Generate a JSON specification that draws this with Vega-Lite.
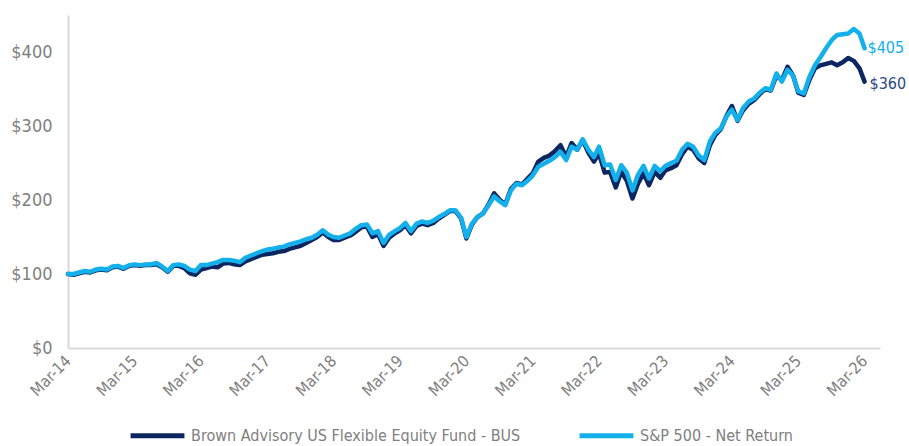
{
  "$schema": "https://vega.github.io/schema/vega-lite/v6.json",
  "width": 812,
  "height": 333,
  "autosize": {"type": "none"},
  "padding": {"left": 68, "top": 15, "right": 29, "bottom": 98},
  "background": "white",
  "config": {
    "view": {"stroke": null},
    "font": "'Liberation Sans Narrow', 'Arial Narrow', 'DejaVu Sans Condensed', Roboto, sans-serif"
  },
  "datasets": {
    "main": [
      {"date":"2014-03-01","BUS":100,"SP":100},{"date":"2014-04-01","BUS":99,"SP":100},{"date":"2014-05-01","BUS":101,"SP":102},{"date":"2014-06-01","BUS":103,"SP":104},{"date":"2014-07-01","BUS":102,"SP":103},{"date":"2014-08-01","BUS":105,"SP":106},{"date":"2014-09-01","BUS":106,"SP":107},{"date":"2014-10-01","BUS":105,"SP":106},{"date":"2014-11-01","BUS":109,"SP":110},{"date":"2014-12-01","BUS":110,"SP":111},
      {"date":"2015-01-01","BUS":107,"SP":108},{"date":"2015-02-01","BUS":111,"SP":112},{"date":"2015-03-01","BUS":112,"SP":113},{"date":"2015-04-01","BUS":111,"SP":112},{"date":"2015-05-01","BUS":112,"SP":113},{"date":"2015-06-01","BUS":112,"SP":113},{"date":"2015-07-01","BUS":113,"SP":115},{"date":"2015-08-01","BUS":109,"SP":110},{"date":"2015-09-01","BUS":103,"SP":104},{"date":"2015-10-01","BUS":111,"SP":112},{"date":"2015-11-01","BUS":111,"SP":113},{"date":"2015-12-01","BUS":108,"SP":111},
      {"date":"2016-01-01","BUS":101,"SP":106},{"date":"2016-02-01","BUS":99,"SP":104},{"date":"2016-03-01","BUS":106,"SP":112},{"date":"2016-04-01","BUS":108,"SP":112},{"date":"2016-05-01","BUS":110,"SP":114},{"date":"2016-06-01","BUS":109,"SP":116},{"date":"2016-07-01","BUS":114,"SP":119},{"date":"2016-08-01","BUS":115,"SP":119},{"date":"2016-09-01","BUS":113,"SP":118},{"date":"2016-10-01","BUS":112,"SP":116},{"date":"2016-11-01","BUS":117,"SP":122},{"date":"2016-12-01","BUS":120,"SP":125},
      {"date":"2017-01-01","BUS":123,"SP":128},{"date":"2017-02-01","BUS":126,"SP":131},{"date":"2017-03-01","BUS":127,"SP":133},{"date":"2017-04-01","BUS":128,"SP":134},{"date":"2017-05-01","BUS":130,"SP":136},{"date":"2017-06-01","BUS":131,"SP":137},{"date":"2017-07-01","BUS":134,"SP":140},{"date":"2017-08-01","BUS":136,"SP":142},{"date":"2017-09-01","BUS":138,"SP":144},{"date":"2017-10-01","BUS":142,"SP":147},{"date":"2017-11-01","BUS":146,"SP":149},{"date":"2017-12-01","BUS":150,"SP":153},
      {"date":"2018-01-01","BUS":156,"SP":159},{"date":"2018-02-01","BUS":150,"SP":153},{"date":"2018-03-01","BUS":146,"SP":150},{"date":"2018-04-01","BUS":146,"SP":149},{"date":"2018-05-01","BUS":149,"SP":152},{"date":"2018-06-01","BUS":152,"SP":155},{"date":"2018-07-01","BUS":157,"SP":161},{"date":"2018-08-01","BUS":163,"SP":166},{"date":"2018-09-01","BUS":164,"SP":167},{"date":"2018-10-01","BUS":150,"SP":155},{"date":"2018-11-01","BUS":154,"SP":158},{"date":"2018-12-01","BUS":138,"SP":142},
      {"date":"2019-01-01","BUS":149,"SP":153},{"date":"2019-02-01","BUS":155,"SP":158},{"date":"2019-03-01","BUS":159,"SP":162},{"date":"2019-04-01","BUS":166,"SP":169},{"date":"2019-05-01","BUS":155,"SP":158},{"date":"2019-06-01","BUS":165,"SP":168},{"date":"2019-07-01","BUS":168,"SP":171},{"date":"2019-08-01","BUS":166,"SP":169},{"date":"2019-09-01","BUS":169,"SP":172},{"date":"2019-10-01","BUS":175,"SP":177},{"date":"2019-11-01","BUS":180,"SP":181},{"date":"2019-12-01","BUS":185,"SP":186},
      {"date":"2020-01-01","BUS":185,"SP":186},{"date":"2020-02-01","BUS":175,"SP":176},{"date":"2020-03-01","BUS":148,"SP":150},{"date":"2020-04-01","BUS":167,"SP":168},{"date":"2020-05-01","BUS":177,"SP":177},{"date":"2020-06-01","BUS":182,"SP":182},{"date":"2020-07-01","BUS":194,"SP":193},{"date":"2020-08-01","BUS":209,"SP":205},{"date":"2020-09-01","BUS":200,"SP":198},{"date":"2020-10-01","BUS":194,"SP":193},{"date":"2020-11-01","BUS":215,"SP":213},{"date":"2020-12-01","BUS":223,"SP":222},
      {"date":"2021-01-01","BUS":221,"SP":220},{"date":"2021-02-01","BUS":229,"SP":226},{"date":"2021-03-01","BUS":236,"SP":233},{"date":"2021-04-01","BUS":252,"SP":245},{"date":"2021-05-01","BUS":257,"SP":249},{"date":"2021-06-01","BUS":260,"SP":253},{"date":"2021-07-01","BUS":266,"SP":258},{"date":"2021-08-01","BUS":274,"SP":265},{"date":"2021-09-01","BUS":258,"SP":254},{"date":"2021-10-01","BUS":277,"SP":272},{"date":"2021-11-01","BUS":268,"SP":268},{"date":"2021-12-01","BUS":281,"SP":282},
      {"date":"2022-01-01","BUS":264,"SP":268},{"date":"2022-02-01","BUS":252,"SP":258},{"date":"2022-03-01","BUS":263,"SP":272},{"date":"2022-04-01","BUS":237,"SP":247},{"date":"2022-05-01","BUS":238,"SP":248},{"date":"2022-06-01","BUS":217,"SP":227},{"date":"2022-07-01","BUS":238,"SP":247},{"date":"2022-08-01","BUS":226,"SP":237},{"date":"2022-09-01","BUS":202,"SP":213},{"date":"2022-10-01","BUS":222,"SP":234},{"date":"2022-11-01","BUS":236,"SP":246},{"date":"2022-12-01","BUS":220,"SP":229},
      {"date":"2023-01-01","BUS":238,"SP":246},{"date":"2023-02-01","BUS":230,"SP":239},{"date":"2023-03-01","BUS":240,"SP":246},{"date":"2023-04-01","BUS":243,"SP":250},{"date":"2023-05-01","BUS":247,"SP":253},{"date":"2023-06-01","BUS":262,"SP":268},{"date":"2023-07-01","BUS":272,"SP":276},{"date":"2023-08-01","BUS":268,"SP":272},{"date":"2023-09-01","BUS":256,"SP":260},{"date":"2023-10-01","BUS":250,"SP":254},{"date":"2023-11-01","BUS":274,"SP":279},{"date":"2023-12-01","BUS":288,"SP":291},
      {"date":"2024-01-01","BUS":296,"SP":297},{"date":"2024-02-01","BUS":314,"SP":313},{"date":"2024-03-01","BUS":327,"SP":322},{"date":"2024-04-01","BUS":307,"SP":308},{"date":"2024-05-01","BUS":321,"SP":324},{"date":"2024-06-01","BUS":330,"SP":333},{"date":"2024-07-01","BUS":335,"SP":337},{"date":"2024-08-01","BUS":343,"SP":345},{"date":"2024-09-01","BUS":350,"SP":351},{"date":"2024-10-01","BUS":348,"SP":349},{"date":"2024-11-01","BUS":368,"SP":371},{"date":"2024-12-01","BUS":362,"SP":360},
      {"date":"2025-01-01","BUS":380,"SP":376},{"date":"2025-02-01","BUS":368,"SP":368},{"date":"2025-03-01","BUS":345,"SP":347},{"date":"2025-04-01","BUS":342,"SP":344},{"date":"2025-05-01","BUS":362,"SP":366},{"date":"2025-06-01","BUS":378,"SP":382},{"date":"2025-07-01","BUS":382,"SP":393},{"date":"2025-08-01","BUS":384,"SP":405},{"date":"2025-09-01","BUS":386,"SP":416},{"date":"2025-10-01","BUS":382,"SP":423},{"date":"2025-11-01","BUS":386,"SP":424},{"date":"2025-12-01","BUS":392,"SP":425},
      {"date":"2026-01-01","BUS":388,"SP":431},{"date":"2026-02-01","BUS":378,"SP":425},{"date":"2026-03-01","BUS":360,"SP":405}
    ],
    "ends": [
      {"date":"2026-03-01","series":"SP","value":405},
      {"date":"2026-03-01","series":"BUS","value":360}
    ]
  },
  "layer": [
    {
      "data": {"name": "main"},
      "transform": [{"fold": ["BUS", "SP"], "as": ["series", "value"]}],
      "mark": {"type": "line", "strokeWidth": 4.5, "strokeJoin": "round", "strokeCap": "round"},
      "encoding": {
        "x": {
          "field": "date", "type": "temporal",
          "scale": {"type": "utc", "domain": [{"year": 2014, "month": 3, "date": 1, "utc": true}, {"year": 2026, "month": 5, "date": 25, "utc": true}]},
          "axis": {
            "title": null,
            "values": [
              {"year": 2014, "month": 3, "date": 1, "utc": true},
              {"year": 2015, "month": 3, "date": 1, "utc": true},
              {"year": 2016, "month": 3, "date": 1, "utc": true},
              {"year": 2017, "month": 3, "date": 1, "utc": true},
              {"year": 2018, "month": 3, "date": 1, "utc": true},
              {"year": 2019, "month": 3, "date": 1, "utc": true},
              {"year": 2020, "month": 3, "date": 1, "utc": true},
              {"year": 2021, "month": 3, "date": 1, "utc": true},
              {"year": 2022, "month": 3, "date": 1, "utc": true},
              {"year": 2023, "month": 3, "date": 1, "utc": true},
              {"year": 2024, "month": 3, "date": 1, "utc": true},
              {"year": 2025, "month": 3, "date": 1, "utc": true},
              {"year": 2026, "month": 3, "date": 1, "utc": true}
            ],
            "labelExpr": "utcFormat(datum.value, '%b-%y')",
            "labelAngle": -45,
            "labelAlign": "right",
            "labelBaseline": "middle",
            "labelPadding": 10,
            "labelFontSize": 16,
            "labelColor": "#808080",
            "ticks": false,
            "grid": false,
            "domainColor": "#d9d9d9",
            "domainWidth": 2,
            "labelOverlap": false
          }
        },
        "y": {
          "field": "value", "type": "quantitative",
          "scale": {"domain": [0, 450], "nice": false},
          "axis": {
            "title": null,
            "values": [0, 100, 200, 300, 400],
            "format": "$,.0f",
            "labelFontSize": 18,
            "labelColor": "#808080",
            "labelPadding": 16,
            "ticks": false,
            "grid": false,
            "domainColor": "#d9d9d9",
            "domainWidth": 2
          }
        },
        "color": {
          "field": "series", "type": "nominal",
          "scale": {"domain": ["BUS", "SP"], "range": ["#0b2660", "#13b0ec"]},
          "legend": {
            "title": null,
            "orient": "none",
            "direction": "horizontal",
            "legendX": 60,
            "legendY": 391,
            "labelExpr": "datum.label == 'BUS' ? 'Brown Advisory US Flexible Equity Fund - BUS' : 'S&P 500 - Net Return'",
            "symbolType": "stroke",
            "symbolSize": 2900,
            "symbolStrokeWidth": 5,
            "labelFontSize": 16,
            "labelColor": "#808080",
            "labelOffset": 4,
            "columnPadding": 48,
            "labelLimit": 400
          }
        }
      }
    },
    {
      "data": {"name": "ends"},
      "transform": [{"filter": "datum.series == 'SP'"}],
      "mark": {"type": "text", "align": "left", "baseline": "middle", "dx": 3, "fontSize": 16, "color": "#13b0ec"},
      "encoding": {
        "x": {"field": "date", "type": "temporal"},
        "y": {"field": "value", "type": "quantitative"},
        "text": {"field": "value", "type": "quantitative", "format": "$.0f"}
      }
    },
    {
      "data": {"name": "ends"},
      "transform": [{"filter": "datum.series == 'BUS'"}],
      "mark": {"type": "text", "align": "left", "baseline": "middle", "dx": 5, "dy": 2, "fontSize": 16, "color": "#2c4a85"},
      "encoding": {
        "x": {"field": "date", "type": "temporal"},
        "y": {"field": "value", "type": "quantitative"},
        "text": {"field": "value", "type": "quantitative", "format": "$.0f"}
      }
    }
  ]
}
